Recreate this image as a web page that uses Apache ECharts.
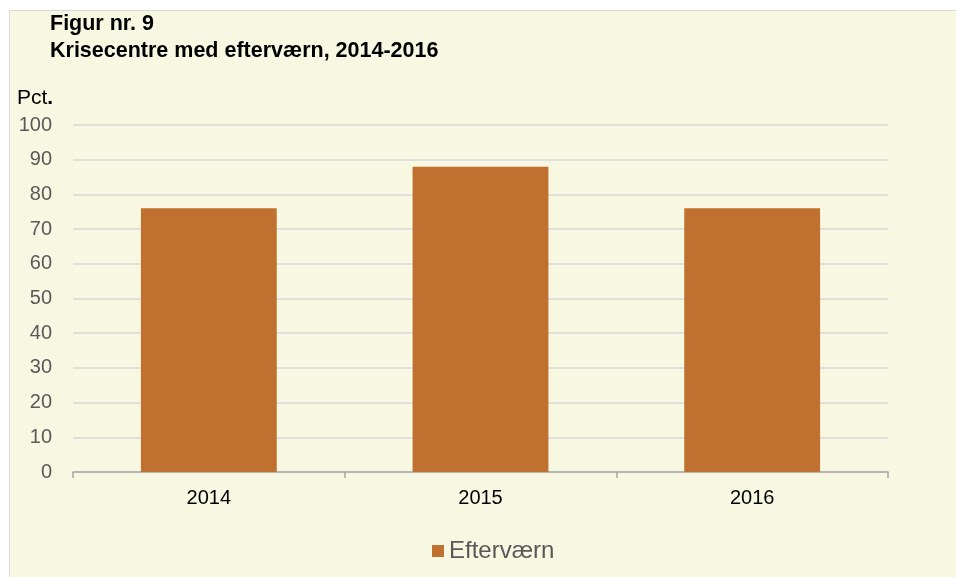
<!DOCTYPE html>
<html>
<head>
<meta charset="utf-8">
<script src="https://cdn.jsdelivr.net/npm/echarts@6/dist/echarts.min.js"></script>
<style>
  html, body { margin: 0; padding: 0; background: #fff; }
  #panel { position: absolute; left: 9px; top: 10px; width: 947px; height: 567px;
           background: #f8f7e1; border-left: 1px solid #d9d9d9; border-top: 1px solid #d9d9d9; }
  #chart { position: absolute; left: 0; top: 0; width: 956px; height: 577px; }
</style>
</head>
<body>
<div id="panel"></div>
<div id="chart"></div>
<script>
const years = ["2014", "2015", "2016"];
const efterværn = [76, 88, 76];
const yTicks = { min: 0, max: 100, step: 10 };

const chart = echarts.init(document.getElementById("chart"));
const font = "Liberation Sans, Arial, sans-serif";

chart.setOption({
  backgroundColor: "transparent",
  textStyle: { fontFamily: font },
  title: [
    {
      text: "Figur nr. 9\nKrisecentre med efterværn, 2014-2016",
      left: 45,
      top: 6,
      textStyle: { fontSize: 21.5, fontWeight: "bold", color: "#000", lineHeight: 27, fontFamily: font }
    },
    {
      text: "{a|Pct}{b|.}",
      left: 12,
      top: 83,
      textStyle: {
        rich: {
          a: { fontSize: 21, color: "#000", fontWeight: "normal", fontFamily: font },
          b: { fontSize: 21, color: "#000", fontWeight: "bold", fontFamily: font }
        }
      }
    }
  ],
  legend: {
    top: 534,
    left: 427,
    itemWidth: 12,
    itemHeight: 12,
    itemGap: 6,
    icon: "rect",
    textStyle: { fontSize: 24, color: "#595959", fontFamily: font },
    data: ["Efterværn"]
  },
  grid: { left: 73, right: 68, top: 125, bottom: 105 },
  xAxis: {
    type: "category",
    data: years,
    axisLine: { lineStyle: { color: "#a6a6a6", width: 1.5 } },
    axisTick: { show: true, alignWithLabel: false, length: 6, lineStyle: { color: "#a6a6a6", width: 1.5 } },
    axisLabel: { fontSize: 20, color: "#000", margin: 16 }
  },
  yAxis: {
    type: "value",
    min: yTicks.min,
    max: yTicks.max,
    interval: yTicks.step,
    axisLine: { show: false },
    axisTick: { show: false },
    axisLabel: { fontSize: 20, color: "#595959", margin: 21 },
    splitLine: { lineStyle: { color: "#d9d9d9", width: 1.5 } }
  },
  series: [
    {
      name: "Efterværn",
      type: "bar",
      data: efterværn,
      barWidth: "50%",
      itemStyle: { color: "#c0702f" }
    }
  ]
});
</script>
</body>
</html>
